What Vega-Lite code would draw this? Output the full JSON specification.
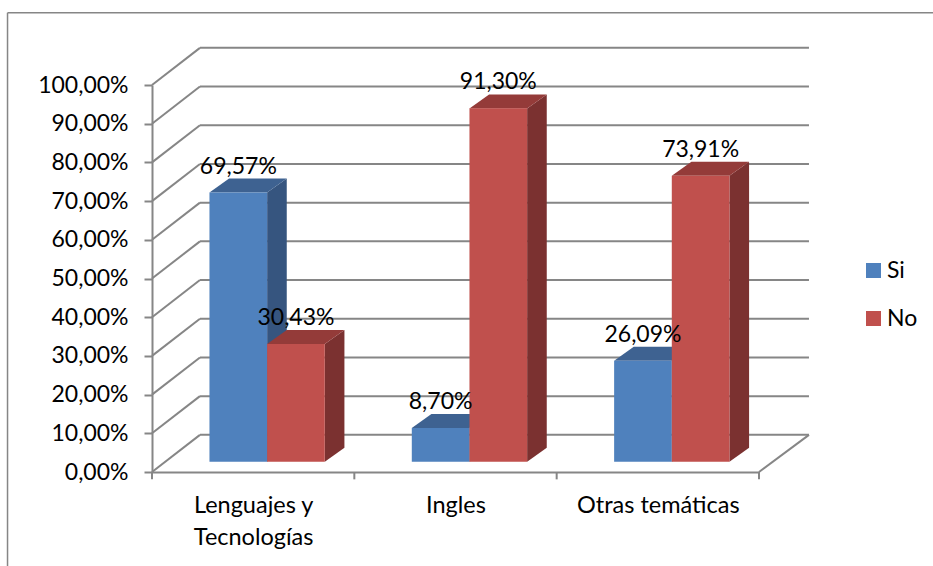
{
"$schema":"https://vega.github.io/schema/vega-lite/v6.json",
"width":607,"height":387,
"autosize":{"type":"none"},
"padding":{"left":152,"top":85,"right":174,"bottom":94},
"background":"white",
"config":{"view":{"stroke":null},"text":{"font":"Lato"},"axis":{"labelFont":"Lato"},"legend":{"labelFont":"Lato"}},
"datasets":{
"bars":[
{"category":"Lenguajes y Tecnologías","series":"Si","value":69.57},
{"category":"Lenguajes y Tecnologías","series":"No","value":30.43},
{"category":"Ingles","series":"Si","value":8.70},
{"category":"Ingles","series":"No","value":91.30},
{"category":"Otras temáticas","series":"Si","value":26.09},
{"category":"Otras temáticas","series":"No","value":73.91}],
"grid":[{"v":0},{"v":10},{"v":20},{"v":30},{"v":40},{"v":50},{"v":60},{"v":70},{"v":80},{"v":90},{"v":100}],
"ticks":[{"k":0},{"k":1},{"k":2},{"k":3}]
},
"layer":[
{"data":{"name":"grid"},"transform":[{"calculate":"datum.v+9.6","as":"vb"}],"mark":{"type":"rule","color":"#868686","strokeWidth":2},
 "encoding":{"x":{"datum":0.237,"type":"quantitative","scale":{"domain":[0,3],"nice":false,"zero":false},
   "axis":{"values":[0.5,1.5,2.5],"title":null,"grid":false,"ticks":false,"domain":true,"domainColor":"#868686","domainWidth":2,"labelFontSize":23.5,"labelColor":"#000","labelPadding":21,"labelLineHeight":32,"labelBaseline":"top","labelOverlap":false,"labelExpr":"datum.value==0.5?['Lenguajes y','Tecnologías']:datum.value==1.5?'Ingles':'Otras temáticas'"}},
  "x2":{"datum":3.247},
  "y":{"field":"vb","type":"quantitative","scale":{"domain":[0,100],"nice":false,"zero":false},
   "axis":{"values":[0,10,20,30,40,50,60,70,80,90,100],"tickCount":11,"title":null,"grid":false,"tickColor":"#868686","tickWidth":2,"tickSize":8,"domainColor":"#868686","domainWidth":2,"labelFontSize":23,"labelColor":"#000","labelPadding":16,"labelOverlap":false,"labelExpr":"replace(format(datum.value,'.2f'),'.',',')+'%'"}}}},
{"data":{"name":"grid"},"transform":[{"calculate":"datum.v+9.6","as":"vb"}],"mark":{"type":"rule","color":"#868686","strokeWidth":2},
 "encoding":{"x":{"datum":0,"type":"quantitative"},"x2":{"datum":0.237},"y":{"field":"v","type":"quantitative"},"y2":{"field":"vb"}}},
{"data":{"values":[{"v":0,"vb":9.6}]},"mark":{"type":"rule","color":"#868686","strokeWidth":2},
 "encoding":{"x":{"datum":3,"type":"quantitative"},"x2":{"datum":3.247},"y":{"field":"v","type":"quantitative"},"y2":{"field":"vb"}}},
{"data":{"name":"ticks"},"mark":{"type":"rule","color":"#868686","strokeWidth":2},
 "encoding":{"x":{"field":"k","type":"quantitative"},"y":{"datum":0,"type":"quantitative"},"y2":{"datum":-1.9}}},
{"data":{"values":[{"f":"top"}]},"mark":{"type":"rule","color":"#868686","strokeWidth":1.5},
 "encoding":{"x":{"datum":-0.714,"type":"quantitative"},"x2":{"datum":3.86},"y":{"datum":118.7,"type":"quantitative"}}},
{"data":{"values":[{"f":"left"}]},"mark":{"type":"rule","color":"#868686","strokeWidth":1.5},
 "encoding":{"x":{"datum":-0.714,"type":"quantitative"},"y":{"datum":118.7,"type":"quantitative"},"y2":{"datum":-24.3}}},

{"data":{"name":"bars"},"transform":[{"filter":"datum.series==='Si'"},
  {"calculate":"indexof(['Lenguajes y Tecnologías','Ingles','Otras temáticas'],datum.category)+0.284","as":"x0"},
  {"calculate":"[0,1]","as":"t"},{"flatten":["t"]},
  {"calculate":"datum.x0+0.285+datum.t*0.097","as":"sx"},{"calculate":"2.66+datum.t*3.6","as":"sy0"},{"calculate":"2.66+datum.value+datum.t*3.6","as":"sy1"}],
 "mark":{"type":"area","color":"#36557F","line":false},
 "encoding":{"x":{"field":"sx","type":"quantitative"},"y":{"field":"sy0","type":"quantitative"},"y2":{"field":"sy1"},"detail":{"field":"category"}}},
{"data":{"name":"bars"},"transform":[{"filter":"datum.series==='Si'"},
  {"calculate":"indexof(['Lenguajes y Tecnologías','Ingles','Otras temáticas'],datum.category)+0.284","as":"x0"},
  {"calculate":"[0,1]","as":"t"},{"flatten":["t"]},
  {"calculate":"datum.x0+datum.t*0.097","as":"tx0"},{"calculate":"datum.x0+0.285+datum.t*0.097","as":"tx1"},{"calculate":"2.66+datum.value+datum.t*3.6","as":"ty"}],
 "mark":{"type":"area","color":"#3E6291","orient":"horizontal"},
 "encoding":{"y":{"field":"ty","type":"quantitative"},"x":{"field":"tx0","type":"quantitative"},"x2":{"field":"tx1"},"detail":{"field":"category"}}},
{"data":{"name":"bars"},"transform":[{"filter":"datum.series==='Si'"},
  {"calculate":"indexof(['Lenguajes y Tecnologías','Ingles','Otras temáticas'],datum.category)+0.284","as":"x0"},
  {"calculate":"datum.x0+0.285","as":"x1"},{"calculate":"2.66+datum.value","as":"top"},{"calculate":"2.66","as":"base"}],
 "mark":{"type":"rect"},
 "encoding":{"x":{"field":"x0","type":"quantitative"},"x2":{"field":"x1"},"y":{"field":"base","type":"quantitative"},"y2":{"field":"top"},
  "color":{"field":"series","type":"nominal","scale":{"domain":["Si","No"],"range":["#4F81BD","#C0504D"]},
   "legend":{"orient":"none","legendX":710,"legendY":174,"title":null,"padding":0,"symbolType":"square","symbolSize":225,"symbolStrokeWidth":0,"symbolOpacity":1,"labelFontSize":23,"labelColor":"#000","rowPadding":24,"labelOffset":2}}}},

{"data":{"name":"bars"},"transform":[{"filter":"datum.series==='No'"},
  {"calculate":"indexof(['Lenguajes y Tecnologías','Ingles','Otras temáticas'],datum.category)+0.569","as":"x0"},
  {"calculate":"[0,1]","as":"t"},{"flatten":["t"]},
  {"calculate":"datum.x0+0.285+datum.t*0.097","as":"sx"},{"calculate":"2.66+datum.t*3.6","as":"sy0"},{"calculate":"2.66+datum.value+datum.t*3.6","as":"sy1"}],
 "mark":{"type":"area","color":"#7B3130"},
 "encoding":{"x":{"field":"sx","type":"quantitative"},"y":{"field":"sy0","type":"quantitative"},"y2":{"field":"sy1"},"detail":{"field":"category"}}},
{"data":{"name":"bars"},"transform":[{"filter":"datum.series==='No'"},
  {"calculate":"indexof(['Lenguajes y Tecnologías','Ingles','Otras temáticas'],datum.category)+0.569","as":"x0"},
  {"calculate":"[0,1]","as":"t"},{"flatten":["t"]},
  {"calculate":"datum.x0+datum.t*0.097","as":"tx0"},{"calculate":"datum.x0+0.285+datum.t*0.097","as":"tx1"},{"calculate":"2.66+datum.value+datum.t*3.6","as":"ty"}],
 "mark":{"type":"area","color":"#943B39","orient":"horizontal"},
 "encoding":{"y":{"field":"ty","type":"quantitative"},"x":{"field":"tx0","type":"quantitative"},"x2":{"field":"tx1"},"detail":{"field":"category"}}},
{"data":{"name":"bars"},"transform":[{"filter":"datum.series==='No'"},
  {"calculate":"indexof(['Lenguajes y Tecnologías','Ingles','Otras temáticas'],datum.category)+0.569","as":"x0"},
  {"calculate":"datum.x0+0.285","as":"x1"},{"calculate":"2.66+datum.value","as":"top"},{"calculate":"2.66","as":"base"}],
 "mark":{"type":"rect"},
 "encoding":{"x":{"field":"x0","type":"quantitative"},"x2":{"field":"x1"},"y":{"field":"base","type":"quantitative"},"y2":{"field":"top"},
  "color":{"field":"series","type":"nominal"}}},

{"data":{"name":"bars"},"transform":[
  {"calculate":"indexof(['Lenguajes y Tecnologías','Ingles','Otras temáticas'],datum.category)+(datum.series==='Si'?0.284:0.569)+0.1425","as":"cx"},
  {"calculate":"2.66+datum.value+3.6","as":"ly"},
  {"calculate":"replace(format(datum.value,'.2f'),'.',',')+'%'","as":"label"}],
 "mark":{"type":"text","fontSize":23,"color":"#000","baseline":"alphabetic","dy":-5},
 "encoding":{"x":{"field":"cx","type":"quantitative"},"y":{"field":"ly","type":"quantitative"},"text":{"field":"label"}}}
]
}
